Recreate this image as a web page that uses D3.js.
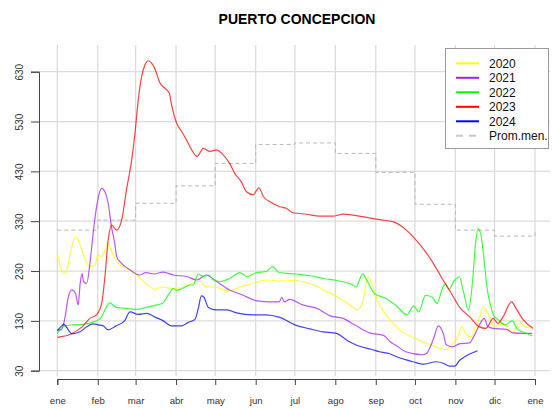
<!DOCTYPE html>
<html>
<head>
<meta charset="utf-8">
<script src="https://cdn.jsdelivr.net/npm/d3@7"></script>
<style>
  body { margin: 0; background: #fff; }
  text { font-family: "Liberation Sans", Arial, sans-serif; }
</style>
</head>
<body>
<div id="chart-area"></div>
<script>
// day of year (0 = 1 ene), value
var serie2020 = [[0,266],[2,242],[5,225],[7,229],[10,266],[14,299],[16,292],[21,256],[25,239],[29,242],[31,262],[34,259],[39,286],[42,266],[47,245],[53,235],[61,222],[68,205],[75,193],[80,198],[88,195],[99,199],[107,209],[109,209],[114,199],[122,197],[132,190],[140,198],[150,205],[160,212],[170,210],[183,211],[193,205],[199,199],[204,192],[214,179],[224,162],[230,152],[234,168],[238,218],[241,205],[245,172],[252,142],[262,112],[273,96],[283,85],[293,75],[298,72],[303,84],[307,100],[310,118],[313,104],[317,98],[320,115],[324,140],[326,158],[330,145],[335,118],[340,124],[345,118],[349,105],[354,126],[359,118],[364,115]];
var serie2021 = [[0,112],[3,112],[6,138],[8,172],[11,192],[14,185],[16,162],[17.5,205],[19,225],[20,209],[22.5,205],[25,245],[27.5,306],[29,339],[31.5,379],[34,396],[36.5,389],[39,366],[41.5,319],[44,286],[45.5,259],[49,246],[56,232],[63,222],[68,227],[74,224],[81,228],[89,222],[99,219],[107,212],[114,222],[122,209],[132,192],[142,182],[153,170],[163,168],[170,168],[172,177],[174,168],[178,173],[188,162],[199,155],[209,140],[219,135],[229,120],[239,106],[250,101],[255,88],[260,80],[267,68],[280,62],[283,65],[288,92],[292,120],[296,102],[298,82],[303,78],[308,84],[316,86],[319,98],[324,125],[327,135],[330,118],[334,115],[344,113],[349,106],[357,105],[364,105]];
var serie2022 = [[0,104],[2,112],[6,120],[12,122],[20,123],[28,128],[33,135],[36.5,152],[40,166],[45.5,157],[53,155],[61,153],[68,157],[76,162],[81,166],[85,182],[89,195],[91.5,191],[96.5,196],[101.5,202],[104,202],[108,224],[112,219],[116,222],[119.5,212],[125,209],[132,215],[140,227],[145,219],[153,227],[160,229],[165,239],[170,227],[183,224],[193,221],[204,215],[214,211],[224,205],[229,199],[234,225],[237,212],[243,185],[252,175],[260,160],[268,142],[273,160],[277,148],[282,181],[287,178],[291,165],[295,195],[297.5,205],[300,193],[304,210],[308,218],[311.5,185],[315,152],[318,205],[320.5,286],[322.3,315],[324.3,306],[327,252],[329.5,192],[332,160],[334.5,140],[338,132],[343,122],[348.5,130],[352,115],[359,105],[364,100]];
var serie2023 = [[0,97],[10,103],[19,118],[25,135],[30,142],[34,165],[36.5,219],[39,292],[41.7,322],[45.5,312],[49.3,332],[53,393],[57,453],[59.5,506],[62,573],[64.6,620],[67.2,644],[69.7,652],[72.3,647],[75.6,630],[78.2,610],[82.5,597],[85.8,587],[87.6,563],[91.4,527],[95.3,510],[99,493],[103,473],[107,460],[112,476],[117,470],[122,473],[126,466],[132,446],[136,426],[141,409],[145,389],[150,383],[154.5,397],[158,379],[163,369],[170.5,359],[175.5,356],[180.5,347],[191,344],[201,340],[211,340],[219,344],[234,339],[247,333],[257,329],[267.5,312],[272.5,299],[280,276],[288,246],[295.5,212],[302,185],[308,158],[316,138],[323.5,118],[328.5,115],[334,135],[337.5,125],[341.5,138],[348,168],[351.5,155],[357,132],[364.5,115]];
var serie2024 = [[0,110],[2.6,118],[5,123],[9,110],[11,104],[17.4,108],[22.5,118],[27.6,124],[31.4,122],[35.2,120],[39,112],[45,120],[51.5,130],[55.7,148],[62,143],[68.4,145],[75.3,137],[81.2,130],[87.3,120],[95.3,120],[100.4,127],[105.5,133],[108,155],[110.4,180],[112.2,178],[115.7,157],[122,152],[130,152],[137.3,146],[150,142],[160,142],[170.4,137],[183,121],[193.4,114],[203.6,108],[213.8,105],[222.5,90],[230.3,80],[240.6,73],[247,68],[254.7,64],[260,58],[272.6,48],[280.2,43],[290.4,48],[295.6,45],[300.6,39],[304.5,39],[308.3,51],[313.4,60],[317.2,65],[322,70]];

// monthly means (ene..dic)
var promMen = [312, 332, 366, 401, 446, 484, 487, 466, 428, 364, 312, 300];

var mesDias = [0, 31, 60, 91, 121, 152, 182, 213, 244, 274, 305, 335, 366];
var mesLabels = ["ene", "feb", "mar", "abr", "may", "jun", "jul", "ago", "sep", "oct", "nov", "dic", "ene"];
var yTicks = [30, 130, 230, 330, 430, 530, 630];

var series = [
    { name: "2020", data: serie2020, color: "#ffff00" },
    { name: "2021", data: serie2021, color: "#a020f0" },
    { name: "2022", data: serie2022, color: "#00ff00" },
    { name: "2023", data: serie2023, color: "#ff0000" },
    { name: "2024", data: serie2024, color: "#0000ff" }
];

var W = 552, H = 408;
var plot = { left: 39, right: 550, top: 45, bottom: 376 };

var svg = d3.select("#chart-area")
    .append("svg")
    .attr("width", W)
    .attr("height", H);

var x = d3.scaleLinear()
    .domain([0, 366])
    .range([57.3, 535]);

var y = d3.scaleLinear()
    .domain([30, 630])
    .range([370.7, 71.7]);

// grid
svg.append("g").selectAll("line")
    .data(yTicks)
    .enter().append("line")
    .attr("x1", plot.left).attr("x2", plot.right)
    .attr("y1", function(d) { return y(d); })
    .attr("y2", function(d) { return y(d); })
    .attr("stroke", "#dcdcdc")
    .attr("stroke-width", 1.3);

svg.append("g").selectAll("line")
    .data(mesDias)
    .enter().append("line")
    .attr("x1", function(d) { return x(d); })
    .attr("x2", function(d) { return x(d); })
    .attr("y1", plot.top).attr("y2", plot.bottom)
    .attr("stroke", "#dcdcdc")
    .attr("stroke-width", 1.3);

// axes
var xAxisGroup = svg.append("g")
    .attr("transform", "translate(0, 379)")
    .call(d3.axisBottom(x).tickValues(mesDias).tickSize(6).tickPadding(12)
        .tickFormat(function(d, i) { return mesLabels[i]; }));

var yAxisGroup = svg.append("g")
    .attr("transform", "translate(39, 0)")
    .call(d3.axisLeft(y).tickValues(yTicks).tickSize(8).tickFormat(d3.format("d")));

svg.selectAll(".domain").attr("stroke", "#444");
svg.selectAll(".tick line").attr("stroke", "#444");
xAxisGroup.selectAll("text")
    .attr("font-size", "9.6px").attr("fill", "#333")
    .attr("font-family", "Liberation Sans, Arial, sans-serif");
yAxisGroup.selectAll(".tick text")
    .attr("font-size", "10px").attr("fill", "#333")
    .attr("font-family", "Liberation Sans, Arial, sans-serif")
    .attr("text-anchor", "middle")
    .attr("dy", 0)
    .attr("x", 0).attr("y", 0)
    .attr("transform", "translate(-16, 0) rotate(-90)");

// monthly mean steps
var promData = promMen.map(function(d, i) { return [mesDias[i], d]; });
promData.push([366, promMen[0]]);

var stepLine = d3.line()
    .x(function(d) { return x(d[0]); })
    .y(function(d) { return y(d[1]); })
    .curve(d3.curveStepAfter);

svg.append("path")
    .datum(promData)
    .attr("d", stepLine)
    .attr("fill", "none")
    .attr("stroke", "#b8b8b8")
    .attr("stroke-width", 1)
    .attr("stroke-dasharray", "4,3");

var line = d3.line()
    .x(function(d) { return x(d[0]); })
    .y(function(d) { return y(d[1]); })
    .curve(d3.curveMonotoneX);

svg.append("g").selectAll("path")
    .data(series)
    .enter().append("path")
    .attr("d", function(d) { return line(d.data); })
    .attr("fill", "none")
    .attr("stroke", function(d) { return d.color; })
    .attr("stroke-opacity", 0.75)
    .attr("stroke-width", 1.2);

// title
svg.append("text")
    .attr("x", 297)
    .attr("y", 24)
    .attr("text-anchor", "middle")
    .attr("font-size", "14px")
    .attr("font-weight", "bold")
    .text("PUERTO CONCEPCION");

// legend
var leg = svg.append("g");
leg.append("rect")
    .attr("x", 445.5).attr("y", 48.5)
    .attr("width", 103).attr("height", 100)
    .attr("fill", "#fff")
    .attr("stroke", "#999")
    .attr("stroke-width", 1);

var legItems = series.map(function(d) { return { name: d.name, color: d.color, dash: null }; });
legItems.push({ name: "Prom.men.", color: "#c8c8c8", dash: "7,6" });

var li = leg.selectAll(".li")
    .data(legItems)
    .enter().append("g")
    .attr("class", "li")
    .attr("transform", function(d, i) { return "translate(0," + (63.3 + i * 14.5) + ")"; });

li.append("line")
    .attr("x1", 456).attr("x2", 479)
    .attr("stroke", function(d) { return d.color; })
    .attr("stroke-width", 2)
    .attr("stroke-dasharray", function(d) { return d.dash; });

li.append("text")
    .attr("x", 489)
    .attr("y", 4.3)
    .attr("font-size", "12px")
    .attr("fill", "#111")
    .text(function(d) { return d.name; });
</script>
</body>
</html>
